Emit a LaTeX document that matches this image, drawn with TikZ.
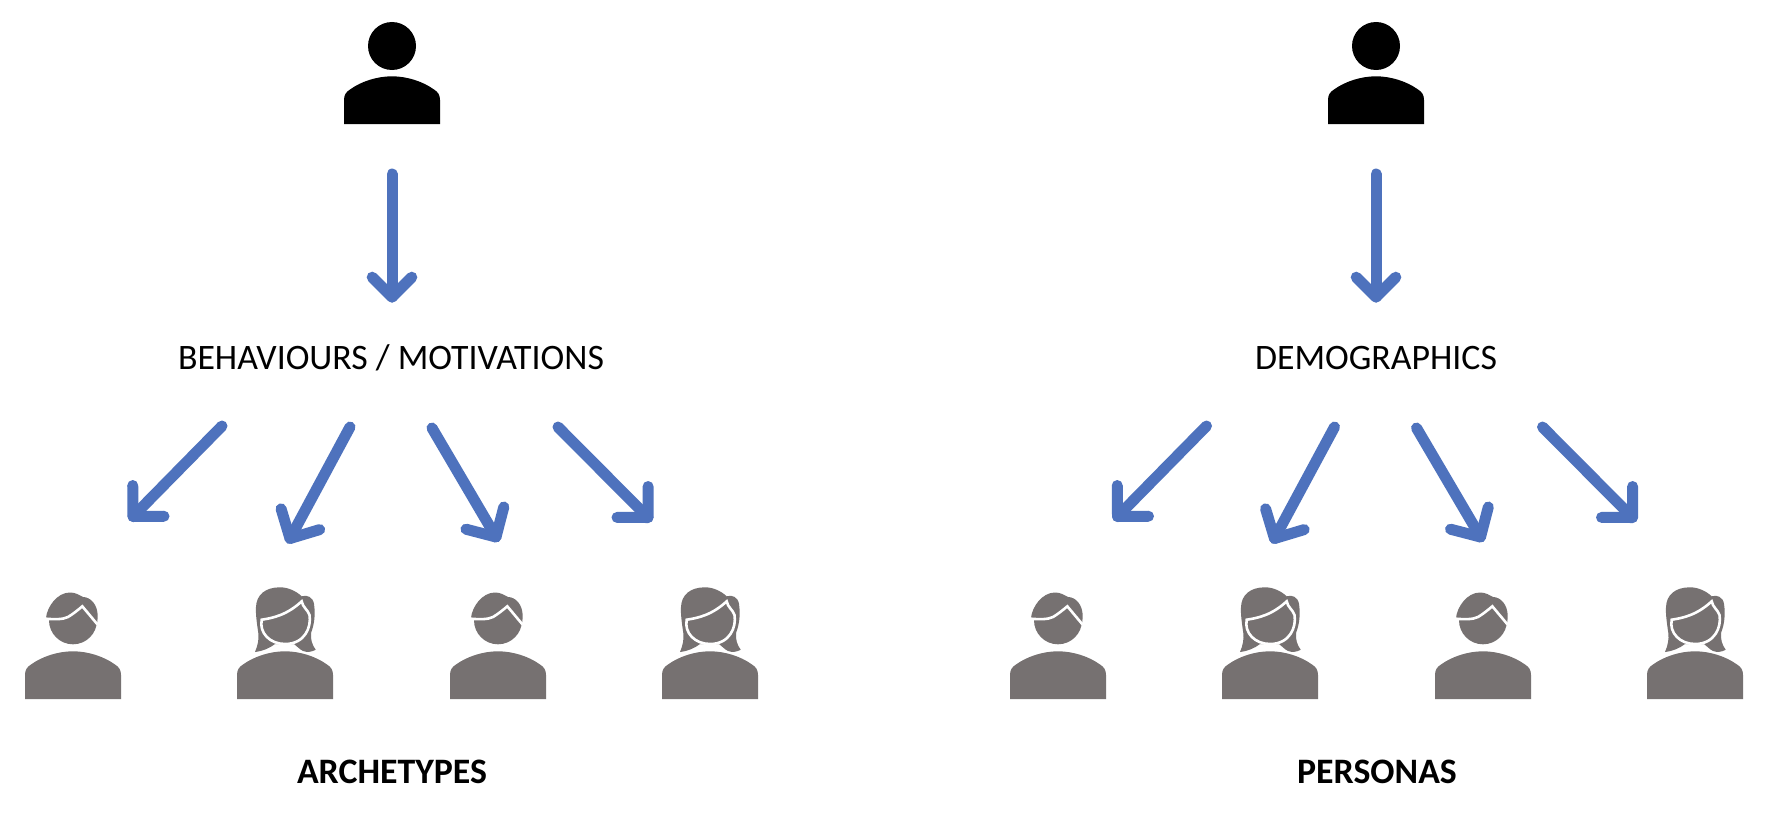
\documentclass[tikz,border=0pt]{standalone}
\usepackage{fontspec}
\setmainfont{Carlito}
\usetikzlibrary{calc}
\definecolor{iconblue}{HTML}{4E72BD}
\definecolor{icongray}{HTML}{767171}
\newcommand{\arrowlink}[3]{%
  \draw[link] (#1) -- (#2);
  \draw[link] ($(#2)!#3!45:(#1)$) -- (#2) -- ($(#2)!#3!-45:(#1)$);
}
\tikzset{
  x=1pt,y=-1pt,
  label text/.style={font=\fontsize{35.8}{42}\selectfont,text=black,inner sep=0pt,anchor=center},
  title text/.style={font=\fontsize{35.8}{42}\selectfont\bfseries,text=black,inner sep=0pt,anchor=center},
  link/.style={draw=iconblue,line width=11pt,line cap=round,line join=round},
  bodyshape/.style={insert path={(-48,0) -- (-48,-24) .. controls (-48,-29) and (-46,-32) .. (-42,-34.5) .. controls (-31,-42.5) and (-15,-47.7) .. (0,-47.7) .. controls (15,-47.7) and (31,-42.5) .. (42,-34.5) .. controls (46,-32) and (48,-29) .. (48,-24) -- (48,0) -- cycle}},
  plainperson/.pic={
    \fill[black] (0,-78) circle[radius=24];
    \fill[black,bodyshape];
  },
  manperson/.pic={
    \fill[icongray,bodyshape];
    \fill[icongray] (0,-78.7) circle[radius=24];
    \fill[icongray] (-27,-81) .. controls (-26,-92) and (-16,-106.5) .. (-3,-106.5) .. controls (3,-106.5) and (6,-104) .. (10,-102) .. controls (17,-102) and (25,-95) .. (24.7,-82) -- (24,-74) -- (0,-74) -- cycle;
    \draw[white,line width=2.6pt,line join=miter] (-27,-80.3) .. controls (-18,-79.5) and (-10,-79.5) .. (-5,-82) .. controls (0,-85) and (5,-89) .. (9.3,-92.7) -- (24.7,-74.3);
  },
  womanperson/.pic={
    \fill[icongray] (-30,-47) .. controls (-27,-54) and (-26,-60) .. (-26.7,-66) .. controls (-28,-75) and (-29.5,-85) .. (-29,-92) .. controls (-28.5,-104) and (-20,-111.7) .. (-5,-111.7) .. controls (3,-111.7) and (11,-108) .. (16.7,-102.7) .. controls (22,-104.5) and (28,-102) .. (29,-95) .. controls (30.5,-85) and (29.5,-75) .. (26,-66) .. controls (25.5,-60) and (27,-54) .. (30.7,-49.3) .. controls (27,-47) and (22,-46.5) .. (18,-48) .. controls (14,-50) and (12,-53) .. (9,-55) -- (-10,-55) .. controls (-15,-51) and (-22,-48) .. (-30,-47) -- cycle;
    \path[draw=white,line width=3.2pt,bodyshape];
    \fill[icongray,bodyshape];
    \draw[fill=icongray,draw=white,line width=2.6pt,line join=miter] (-23.3,-79.3) .. controls (-12,-81) and (2,-84) .. (16.7,-97.7) .. controls (17.5,-92) and (23,-89) .. (24.5,-84) .. controls (26.5,-72) and (20,-55) .. (0,-55) .. controls (-15,-55) and (-26,-66) .. (-23.3,-79.3) -- cycle;
  },
}
\begin{document}
\begin{tikzpicture}
\useasboundingbox (0,0) rectangle (1768,816);
\fill[white] (0,0) rectangle (1768,816);
% left column
\pic (topL) at (392,124) {plainperson};
\node[label text] (behav) at (391,358) {BEHAVIOURS / MOTIVATIONS};
\node[title text] (arch) at (392,772) {ARCHETYPES};
\pic (l1) at (73,699) {manperson};
\pic (l2) at (285,699) {womanperson};
\pic (l3) at (498,699) {manperson};
\pic (l4) at (710,699) {womanperson};
% right column
\pic (topR) at (1376,124) {plainperson};
\node[label text] (demo) at (1376,358) {DEMOGRAPHICS};
\node[title text] (pers) at (1377,772) {PERSONAS};
\pic (r1) at (1058,699) {manperson};
\pic (r2) at (1270,699) {womanperson};
\pic (r3) at (1483,699) {manperson};
\pic (r4) at (1695,699) {womanperson};
% connector ends
\coordinate (ts) at (392,174); \coordinate (te) at (392,297);
\coordinate (a1s) at (222,426); \coordinate (a1e) at (133,516.5);
\coordinate (a2s) at (350,427); \coordinate (a2e) at (290,538.5);
\coordinate (a3s) at (432,428); \coordinate (a3e) at (496,537);
\coordinate (a4s) at (558,427); \coordinate (a4e) at (648,517.5);
\coordinate (Ts) at (1376,174); \coordinate (Te) at (1376,297);
\coordinate (b1s) at (1206.5,426); \coordinate (b1e) at (1117.5,516.5);
\coordinate (b2s) at (1334.5,427); \coordinate (b2e) at (1274.5,538.5);
\coordinate (b3s) at (1416.5,428); \coordinate (b3e) at (1480.5,537);
\coordinate (b4s) at (1542.5,427); \coordinate (b4e) at (1632.5,517.5);
\arrowlink{ts}{te}{28pt}
\arrowlink{a1s}{a1e}{31pt}
\arrowlink{a2s}{a2e}{31pt}
\arrowlink{a3s}{a3e}{31pt}
\arrowlink{a4s}{a4e}{31pt}
\arrowlink{Ts}{Te}{28pt}
\arrowlink{b1s}{b1e}{31pt}
\arrowlink{b2s}{b2e}{31pt}
\arrowlink{b3s}{b3e}{31pt}
\arrowlink{b4s}{b4e}{31pt}
\end{tikzpicture}
\end{document}
